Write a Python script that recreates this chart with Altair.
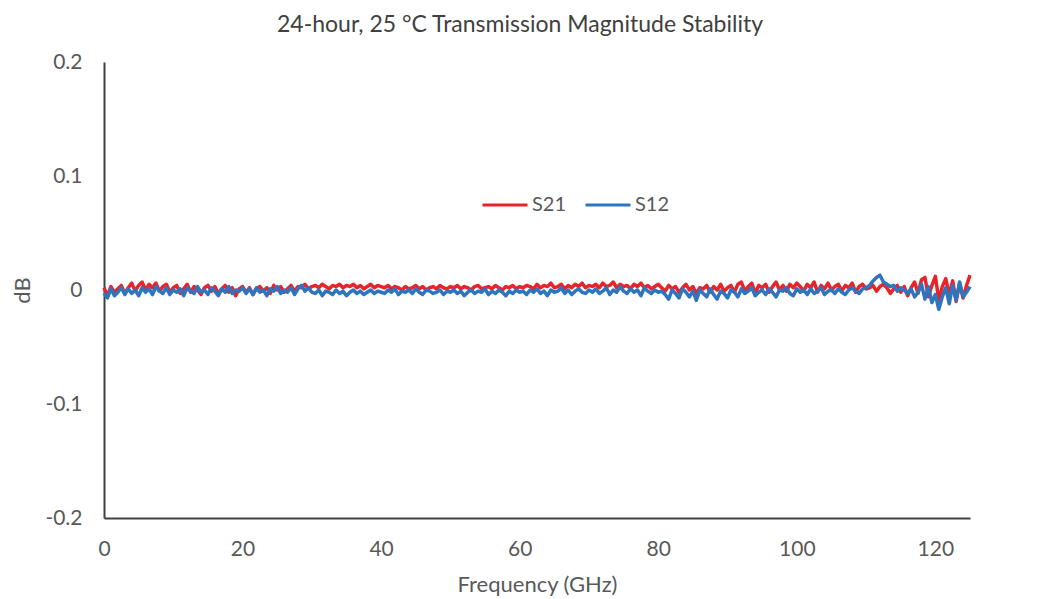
import altair as alt
import pandas as pd

# Frequency grid (GHz), 0.5 GHz steps
freq = [i / 2 for i in range(0, 251)]

# S21 (red) deviation in milli-dB
s21_mdb = [
    2, -5, 3, -2, 1, 4, -3, 2, 6, -1, 4, 7, 0, 5, 2, 6, -1, 3, 5, -2, 2,
    4, -3, 1, 5, -2, 3, 0, -4, 2, 4, -1, 3, -3, 1, 4, -2, 2, -5, 1, 3,
    -2, 2, -4, 1, 3, -1, 2, -3, 4, 0, 3, -2, 1, 4, -1, 3, 2, 5, 1, 3,
    4, 2, 5, 3, 1, 4, 3, 5, 2, 4, 3, 5, 2, 4, 1, 3, 5, 2, 4, 3,
    2, 4, 1, 3, 2, 0, 3, 1, 2, 4, 1, 3, 0, 2, 3, 1, 4, 2, 1, 3,
    2, 4, 1, 3, 2, 0, 3, 4, 1, 2, 3, 1, 4, 2, 0, 3, 2, 4, 1, 3,
    2, 4, 3, 1, 5, 2, 4, 3, 6, 2, 3, 5, 1, 4, 2, 5, 3, 6, 2, 4,
    3, 5, 2, 6, 3, 4, 7, 2, 5, 3, 4, 1, 5, 3, 6, 2, 4, 1, 3, 5,
    2, -1, 4, 1, 3, -2, 2, 5, 0, 3, -3, 2, 1, 4, -2, 3, 0, 5, -1, 2,
    4, -2, 5, 7, -1, 3, 6, -3, 4, 2, 5, -2, 3, 7, 0, 4, -1, 5, 2, 6,
    3, -1, 5, 2, 7, -2, 4, 1, 6, 0, 3, 5, -1, 4, 2, 6, -2, 3, 5, 1,
    2, 4, -1, 3, 5, 2, -3, 1, 4, -2, 3, -5, 2, 7, -3, 9, 11, -6, 4, 12,
    -9, 3, 10, -4, 8, -10, 6, -7, 4, 13,
]

# S12 (blue) deviation in milli-dB
s12_mdb = [
    -3, -7, 1, -5, -2, 2, -4, 1, -3, 0, -5, 2, -2, 1, -4, 3, -1, -3, 2, -4, 0,
    -2, 1, -5, 2, -1, -3, 3, -2, 0, -4, 2, -1, -5, 1, -2, 3, -3, 0, -1, 2,
    -3, 1, -4, 2, -2, 0, -5, 1, -1, 3, -3, 0, -2, 2, -4, 1, 4, -1, 2, -2,
    -3, 0, -5, -1, -2, -4, 0, -3, -1, -5, -2, 0, -3, -1, -4, -2, 0, -3, -1, -2,
    -3, 0, -2, 1, -4, -1, -2, 0, -3, 1, -2, -4, 0, -1, -3, -2, 0, -4, -1, -2,
    0, -3, -1, -5, -2, 0, -3, -1, -2, 1, -4, -1, -3, 0, -2, -5, -1, -3, 0, -2,
    -1, -4, 0, -2, 1, -3, -1, -5, 0, -2, -1, 2, -3, 0, -4, -1, 1, -2, -3, 0,
    -2, 1, -3, -1, 2, -4, 0, -2, 3, -1, -3, 1, -2, 0, -5, 2, -1, -3, 0, -2,
    -1, -4, -8, 0, -3, -7, 1, -2, -6, -1, -9, 0, -3, -6, 1, -4, -8, -1, -3, -7,
    0, -2, -6, 1, -3, -1, 2, -5, -2, 0, -4, 1, -2, -6, 0, -1, 2, -3, -5, 1,
    -2, 0, -4, 1, -3, -1, 2, -4, -1, 0, -3, 1, -2, -4, 0, 2, -1, -3, 1, 2,
    4, 8, 11, 13, 7, 5, 3, 4, -1, 2, 0, -3, 1, -6, -2, 5, -8, 3, -11, -4,
    -17, -6, 2, -12, 4, -9, 7, -6, -2, 3,
]

series_names = ["S21", "S12"]
series_colors = ["#e8242b", "#2e75c0"]
x_ticks = [0, 20, 40, 60, 80, 100, 120]
y_ticks = [-0.2, -0.1, 0, 0.1, 0.2]

n = min(len(freq), len(s21_mdb), len(s12_mdb))
rows = []
for i in range(n):
    rows.append({"f": freq[i], "v": s21_mdb[i] / 1000.0, "s": "S21", "o": 0})
for i in range(n):
    rows.append({"f": freq[i], "v": s12_mdb[i] / 1000.0, "s": "S12", "o": 1})
df = pd.DataFrame(rows)

FONT = "Lato"
GRAY = "#595959"

lines = alt.Chart(df).mark_line(strokeWidth=3.5, strokeJoin="round").encode(
    x=alt.X("f:Q", scale=alt.Scale(domain=[0, 125], nice=False, zero=False),
            axis=alt.Axis(values=x_ticks, title="Frequency (GHz)", grid=False, ticks=False,
                          labelPadding=20, titlePadding=15, domainColor="#404040",
                          domainWidth=2, labelFlush=False)),
    y=alt.Y("v:Q", scale=alt.Scale(domain=[-0.2, 0.2], nice=False),
            axis=alt.Axis(values=y_ticks, title="dB", grid=False, ticks=False,
                          labelPadding=22, titlePadding=10, domainColor="#404040",
                          domainWidth=2, labelExpr="'' + datum.value", labelFlush=False)),
    color=alt.Color("s:N", scale=alt.Scale(domain=series_names, range=series_colors),
                    legend=alt.Legend(title=None, orient="none", legendX=377, legendY=119,
                                      direction="horizontal", symbolType="stroke",
                                      symbolSize=2025, symbolStrokeWidth=3,
                                      labelFontSize=20, labelColor=GRAY, labelFont=FONT,
                                      columnPadding=12, labelOffset=3)),
    detail="s:N",
    order="o:Q",
)

chart = lines.properties(
    width=866, height=456,
    title=alt.TitleParams("24-hour, 25 °C Transmission Magnitude Stability", fontSize=23,
                          font=FONT, fontWeight="normal", color="#404040", offset=14,
                          dx=-17),
    autosize=alt.AutoSizeParams(type="none"),
    padding={"left": 96, "top": 54, "right": 60, "bottom": 80},
).configure_axis(
    labelFont=FONT, labelFontSize=21, labelColor=GRAY,
    titleFont=FONT, titleFontSize=22, titleColor=GRAY, titleFontWeight="normal",
).configure_view(stroke=None)

chart.save("out.html", embed_options={"renderer": "svg", "actions": False})
